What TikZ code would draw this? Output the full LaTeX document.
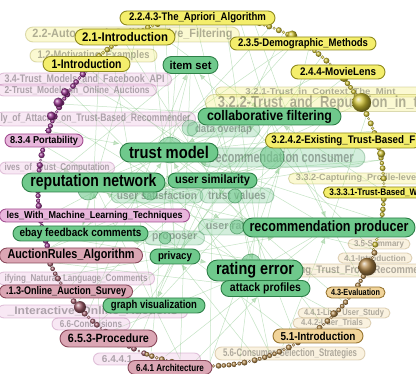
\documentclass[tikz,border=0pt]{standalone}
\usepackage{fontspec}
\setmainfont{Liberation Sans}
\usepackage{graphicx}
\usetikzlibrary{arrows.meta}
\newlength\fitlen
\newcommand\fitw[2]{\settowidth{\fitlen}{#2}\pgfmathsetmacro{\fitsx}{#1/\fitlen}\scalebox{\fitsx}[1]{#2}}
\definecolor{ylwF}{HTML}{F4EE6C}
\definecolor{ylwD}{HTML}{8F8A1E}
\definecolor{grnF}{HTML}{6FC98C}
\definecolor{grnD}{HTML}{2D7F47}
\definecolor{pnkF}{HTML}{E8B6DC}
\definecolor{pnkD}{HTML}{A24E90}
\definecolor{rseF}{HTML}{DBA6B4}
\definecolor{rseD}{HTML}{8A4A5C}
\definecolor{tanF}{HTML}{F1D49A}
\definecolor{tanD}{HTML}{977532}
\definecolor{lnk}{HTML}{8CC98C}
\definecolor{bY}{HTML}{CDBF30}
\definecolor{bP}{HTML}{98348F}
\definecolor{bR}{HTML}{A05C6A}
\definecolor{bT}{HTML}{B08648}
\pgfdeclarelayer{back}
\pgfdeclarelayer{lines}
\pgfdeclarelayer{faded}
\pgfdeclarelayer{beads}
\pgfsetlayers{back,lines,faded,beads,main}
\tikzset{
  lbl/.style={rectangle, draw, line width=0.9pt, inner sep=0pt, font=\bfseries},
  bx/.style 2 args={minimum width=#1, minimum height=#2, rounded corners=#2*0.5},
  sz/.style={font=\bfseries\fontsize{#1}{#1}\selectfont},
  ylwL/.style={lbl, fill=ylwF, draw=ylwD},
  grnL/.style={lbl, fill=grnF, draw=grnD},
  pnkL/.style={lbl, fill=pnkF, draw=pnkD},
  rseL/.style={lbl, fill=rseF, draw=rseD},
  tanL/.style={lbl, fill=tanF, draw=tanD},
  faded/.style={opacity=0.3},
  blob/.style={circle, fill=grnF, draw=grnD, fill opacity=0.6, draw opacity=0.6, line width=0.6pt, inner sep=0pt},
  link/.style={draw=lnk, line width=0.5pt, opacity=0.5},
  alink/.style={link, -{Latex[length=6pt,width=5pt]}}
}
\begin{document}
\begin{tikzpicture}[x=1pt,y=-1pt]
\useasboundingbox (0,0) rectangle (416,374);
\begin{pgfonlayer}{back}
\fill[white] (0,0) rectangle (416,374);
\end{pgfonlayer}
\foreach \a in {0,5,...,355}{\coordinate (q\a) at ({210+172*cos(\a)},{190-172*sin(\a)});}

% faded labels
\begin{pgfonlayer}{faded}
\node[ylwL,faded,bx={214}{15},sz=12,anchor=west] (f1) at (25,34.5) {\fitw{200}{2.2-Automated\_Collaborative\_Filtering}};
\node[ylwL,faded,bx={127}{13},sz=11] (f2) at (93.5,55.5) {\fitw{112}{1.2-Motivating\_Examples}};
\node[pnkL,faded,bx={174}{13},sz=11,anchor=east] (f3) at (172,79.5) {\fitw{160}{3.4-Trust\_Models\_and\_Facebook\_API}};
\node[pnkL,faded,bx={159}{12},sz=10,anchor=east] (f4) at (157,90) {\fitw{145}{2-Trust\_Models\_in\_Online\_Auctions}};
\node[pnkL,faded,bx={200}{14},sz=11,anchor=east] (f5) at (196,119) {\fitw{190}{ly\_of\_Attacks\_on\_Trust-Based\_Recommender}};
\node[pnkL,faded,bx={115}{12},sz=10,anchor=east] (f6) at (115,168) {\fitw{105}{ives\_of\_Trust\_Computation}};
\node[ylwL,faded,bx={210}{10},sz=8.5,anchor=west] (f7a) at (215,92) {\fitw{150}{3.2.1-Trust\_in\_Context\_The\_Mint}};
\node[ylwL,faded,bx={240}{17},sz=16,anchor=west] (f7b) at (205,103) {\fitw{215}{3.2.2-Trust\_and\_Reputation\_in\_the}};
\node[grnL,faded,bx={73}{15},sz=11] (do) at (223.5,129.5) {\fitw{57}{data overlap}};
\node[grnL,faded,bx={165}{19},sz=15] (rc) at (282.5,157.5) {\fitw{142}{recommendation consumer}};
\node[ylwL,faded,bx={165}{11},sz=9,anchor=west] (f10) at (288,178.5) {\fitw{150}{3.3.2-Capturing\_Profile-level\_Trust}};
\node[grnL,faded,bx={92}{14},sz=11] (usat) at (157,196) {\fitw{80}{user satisfaction}};
\node[grnL,faded,bx={74}{15},sz=12] (tv) at (237,195.5) {\fitw{58}{trust values}};
\node[grnL,faded,bx={60}{14},sz=11,anchor=east] (pp) at (205,238) {\fitw{45}{proposer}};
\node[grnL,faded,bx={70}{16},sz=11,anchor=west] (ur) at (198,227) {\fitw{55}{user rating}};
\node[tanL,faded,bx={62}{10},sz=8.5] (f16) at (379,244) {\fitw{50}{3.5-Summary}};
\node[tanL,faded,bx={74}{10},sz=8.5] (f17) at (375,258) {\fitw{62}{4.1-Introduction}};
\node[tanL,faded,bx={200}{13},sz=11,anchor=west] (f18) at (265,270.5) {\fitw{185}{Inferring\_Trust\_From\_Recommendations}};
\node[tanL,faded,bx={92}{10},sz=9] (f19) at (344,313) {\fitw{80}{4.4.1-Live\_User\_Study}};
\node[tanL,faded,bx={78}{10},sz=9] (f20) at (332,323) {\fitw{62}{4.4.2-User\_Trials}};
\node[tanL,faded,bx={150}{13},sz=11] (f21) at (290,353.5) {\fitw{134}{5.6-Consumer\_Selection\_Strategies}};
\node[pnkL,faded,bx={157}{13},sz=10,anchor=east] (f22) at (155,278.5) {\fitw{143}{ifying\_Natural\_Language\_Comments}};
\node[pnkL,faded,bx={190}{13},sz=11,anchor=east] (f23) at (188,311.5) {\fitw{170}{\_Interactive\_Online\_Auctions}};
\node[pnkL,faded,bx={78}{12},sz=10] (f24) at (91,324) {\fitw{62}{6.6-Conclusions}};
\node[pnkL,faded,bx={107}{12},sz=10,anchor=west,text width=90,align=left,inner xsep=8] (f25) at (93,359) {6.4.4.1};
\end{pgfonlayer}

% bead chains
\begin{pgfonlayer}{beads}
\foreach \i in {0,...,89}{\pgfmathsetmacro\ba{-20+\i*1.7}\pgfmathsetmacro\br{1.4+1.6*abs(sin(\i*83))}
  \shade[ball color=bY] ({210+174*cos(\ba)},{190-174*sin(\ba)}) circle[radius=\br pt];}
\foreach \i in {0,...,39}{\pgfmathsetmacro\ba{136+\i*1.7}\pgfmathsetmacro\br{1.4+1.8*abs(sin(\i*71+20))}
  \shade[ball color=bP] ({210+172*cos(\ba)},{190-172*sin(\ba)}) circle[radius=\br pt];}
\foreach \i in {0,...,25}{\pgfmathsetmacro\ba{203+\i*1.8}\pgfmathsetmacro\br{1.4+1.6*abs(sin(\i*67+10))}
  \shade[ball color=bR] ({210+176*cos(\ba)},{190-176*sin(\ba)}) circle[radius=\br pt];}
\foreach \i in {0,...,53}{\pgfmathsetmacro\ba{249+\i*1.7}\pgfmathsetmacro\br{1.4+1.6*abs(sin(\i*79+40))}
  \shade[ball color=bT] ({210+176*cos(\ba)},{190-176*sin(\ba)}) circle[radius=\br pt];}
\foreach \ba/\br/\bc in {30/9.5/bY, 62/5/bY, 40/4.5/bY, 12/4/bY, -26/9/bT, -45/3.5/bT, 150/5/bP, 155/4.5/bP, 146/4/bP, 222/6/bR, 236/4/bR}
  {\shade[ball color=\bc] ({210+175*cos(\ba)},{190-175*sin(\ba)}) circle[radius=\br pt];}
% green blobs
\node[blob,minimum size=26] (b1) at (170,150) {};
\node[blob,minimum size=24] (b2) at (272,157) {};
\node[blob,minimum size=20] (b3) at (88,190) {};
\node[blob,minimum size=16,opacity=0.4] (b4) at (190,128) {};
\node[blob,minimum size=14] (b5) at (150,193) {};
\node[blob,minimum size=14] (b6) at (235,196) {};
\node[blob,minimum size=12] (b7) at (165,238) {};
\node[blob,minimum size=14] (b8) at (237,227) {};
\node[blob,minimum size=20] (b9) at (251,264) {};
\node[blob,minimum size=18] (b10) at (328,228) {};
\end{pgfonlayer}

% bright labels
\node[ylwL,bx={155}{14},sz=11] (apr) at (197.5,18) {\fitw{137}{2.2.4.3-The\_Apriori\_Algorithm}};
\node[ylwL,bx={100}{16},sz=12.5] (in21) at (125,37) {\fitw{86}{2.1-Introduction}};
\node[ylwL,bx={87}{15},sz=12.5] (in1) at (86.5,64) {\fitw{70}{1-Introduction}};
\node[ylwL,bx={146}{13},sz=11] (dem) at (303,43.5) {\fitw{130}{2.3.5-Demographic\_Methods}};
\node[ylwL,bx={94}{14},sz=11] (mov) at (338,72) {\fitw{76}{2.4.4-MovieLens}};
\node[ylwL,bx={156}{15},sz=11,anchor=west] (ex) at (265,140.5) {\fitw{144}{3.2.4.2-Existing\_Trust-Based\_F}};
\node[ylwL,bx={100}{11},sz=9.5,anchor=west] (tbw) at (323,192.5) {\fitw{88}{3.3.3.1-Trust-Based\_W}};

\node[grnL,bx={55}{17},sz=11.5] (is) at (190.5,65) {\fitw{42}{item set}};
\node[grnL,bx={143}{17},sz=14] (cf) at (269.5,116.5) {\fitw{125}{collaborative filtering}};
\node[grnL,bx={98}{19},sz=17] (tm) at (169,152.5) {\fitw{80}{trust model}};
\node[grnL,bx={143}{19},sz=17] (rn) at (93.5,182.5) {\fitw{126}{reputation network}};
\node[grnL,bx={89}{15},sz=12] (us) at (212.5,180.5) {\fitw{75}{user similarity}};
\node[grnL,bx={135}{15},sz=11.5] (eb) at (80.5,233.5) {\fitw{122}{ebay feedback comments}};
\node[grnL,bx={172}{19},sz=15] (rp) at (329,227.5) {\fitw{159}{recommendation producer}};
\node[grnL,bx={50}{15},sz=11] (pv) at (175,256.5) {\fitw{34}{privacy}};
\node[grnL,bx={96}{21},sz=17] (re) at (255,270.5) {\fitw{78}{rating error}};
\node[grnL,bx={89}{16},sz=12] (ap) at (265.5,288.5) {\fitw{71}{attack profiles}};
\node[grnL,bx={102}{15},sz=11.5] (gv) at (154,305.5) {\fitw{86}{graph visualization}};

\node[pnkL,bx={78}{13},sz=10] (port) at (44,140.5) {\fitw{68}{8.3.4 Portability}};
\node[pnkL,bx={190}{13},sz=10,anchor=east] (mlt) at (190,215.5) {\fitw{176}{les\_With\_Machine\_Learning\_Techniques}};
\node[rseL,bx={143}{15},sz=13,anchor=east] (arA) at (143,255.5) {\fitw{127}{AuctionRules\_Algorithm}};
\node[rseL,bx={133}{13},sz=11,anchor=east] (oas) at (133,291.5) {\fitw{120}{.1.3-Online\_Auction\_Survey}};
\node[rseL,bx={97}{17},sz=12] (proc) at (108.5,338.5) {\fitw{81}{6.5.3-Procedure}};
\node[rseL,bx={84}{14},sz=10] (arch) at (170,367.5) {\fitw{68}{6.4.1 Architecture}};

\node[tanL,bx={59}{11},sz=9] (eva) at (355.5,292.5) {\fitw{49}{4.3-Evaluation}};
\node[tanL,bx={90}{14},sz=11.5] (in51) at (318,336) {\fitw{75}{5.1-Introduction}};

% links
\begin{pgfonlayer}{lines}
\foreach \n/\a in {tm/20,tm/100,tm/190,tm/250,tm/320,rn/60,rn/130,rn/260,rn/340,cf/80,cf/150,cf/240,cf/280,cf/330,
  us/40,us/120,us/220,us/270,rp/25,rp/140,rp/255,re/55,re/165,re/315,ap/85,ap/205,is/180,is/260,is/300,
  eb/30,eb/70,pv/50,pv/105,gv/35,gv/125,rc/200,rc/230,do/245,tv/290,usat/10,ur/175,pp/110}
  {\draw[link] (\n.center) -- (q\a);}
\foreach \n/\a in {tm/45,tm/160,tm/215,tm/290,tm/350,rn/170,rn/230,rn/300,rn/10,cf/110,cf/200,cf/0,us/180,us/310,
  rp/75,rp/210,rp/295,re/95,re/195,re/235,ap/145,ap/265,is/225,is/340,eb/115,eb/330,pv/285,gv/65,rc/270,tv/135,ur/155,usat/60}
  {\draw[alink] (q\a) -- (\n);}
\draw[link] (tm) -- (rn); \draw[link] (tm) -- (cf); \draw[link] (tm) -- (us);
\draw[link] (rp) -- (re); \draw[link] (rc) -- (us); \draw[link] (cf) -- (rc);
\draw[link] (re) -- (ap); \draw[link] (is) -- (tm); \draw[link] (eb) -- (rn);
\end{pgfonlayer}
\end{tikzpicture}
\end{document}
